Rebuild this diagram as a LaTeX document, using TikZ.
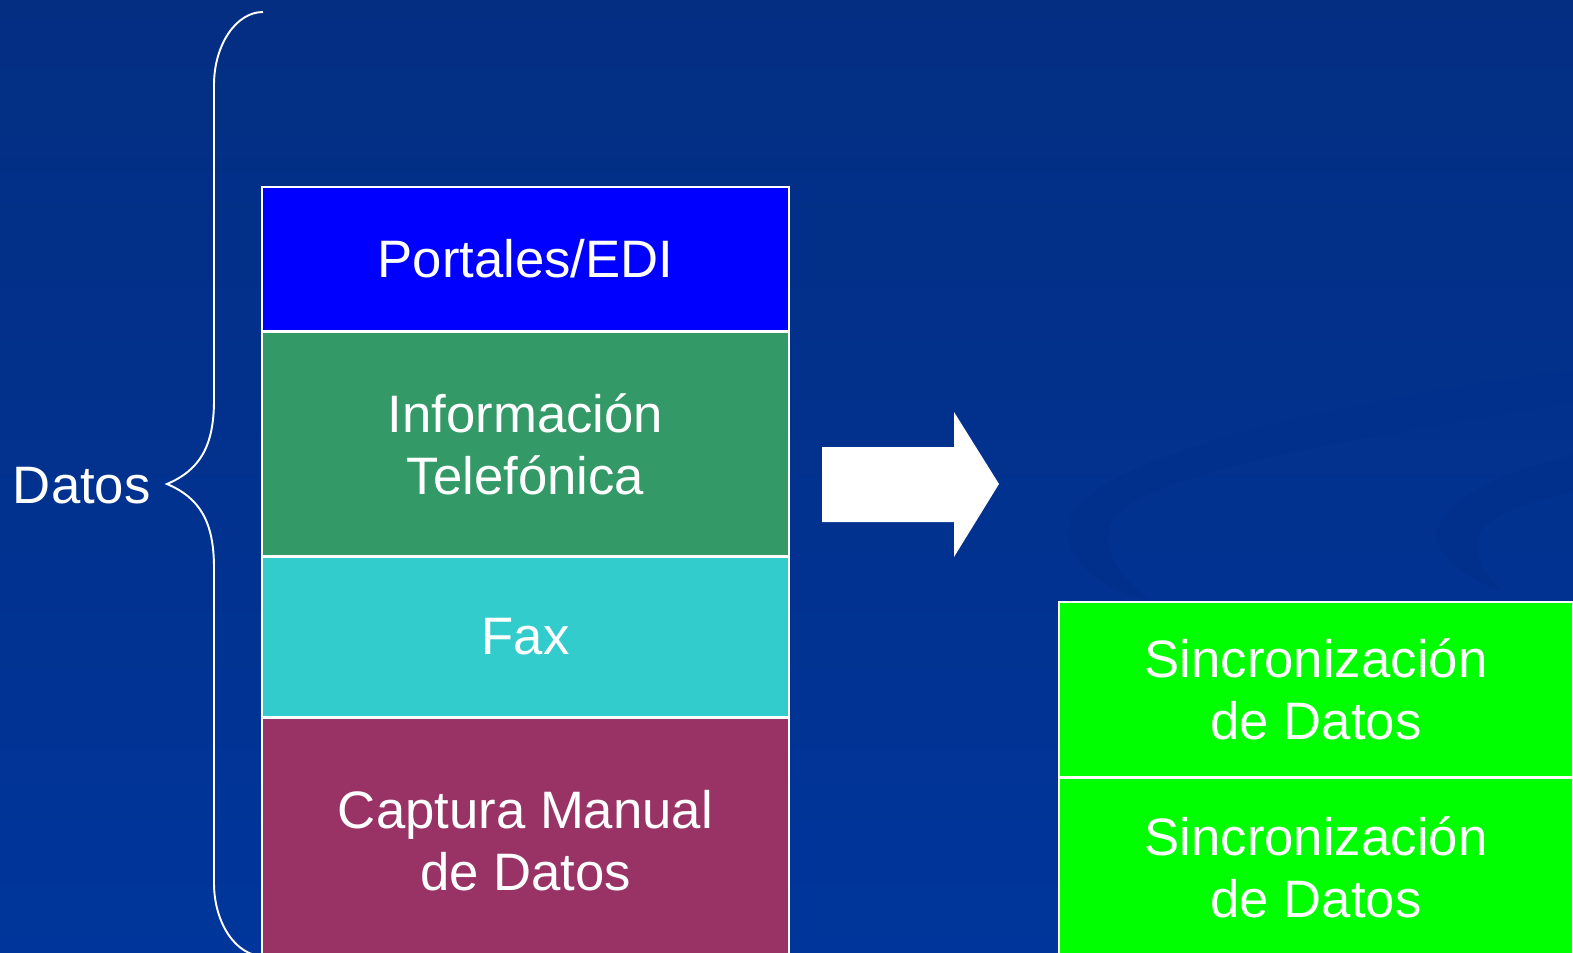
\documentclass[tikz,border=0pt]{standalone}
\usepackage{fontspec}
\setmainfont{Liberation Sans}
\usetikzlibrary{positioning}
\definecolor{portal}{RGB}{0,0,255}
\definecolor{tel}{RGB}{51,153,102}
\definecolor{fax}{RGB}{51,204,204}
\definecolor{manual}{RGB}{153,51,102}
\definecolor{sinc}{RGB}{0,255,0}
\definecolor{bgtop}{RGB}{3,46,130}
\definecolor{bgbot}{RGB}{0,53,155}
\definecolor{swirl}{RGB}{0,47,140}

\begin{document}
\begin{tikzpicture}[x=0.02cm, y=-0.02cm,
  big/.style = {font=\fontsize{30}{35.5}\selectfont},
  box/.style = {big, draw=white, line width=0.9pt, text=white, align=center, inner sep=0pt, minimum width=10.54cm},
  sbox/.style = {box, fill=sinc, minimum width=10.28cm}]
\useasboundingbox (0,0) rectangle (1573,953);
\clip (0,0) rectangle (1573,953);
\shade[top color=bgtop, bottom color=bgbot] (0,0) rectangle (1573,953);
\fill[swirl] (1573,370) .. controls (1350,400) and (1110,450) .. (1072,515) .. controls (1055,555) and (1100,590) .. (1150,600)
  .. controls (1115,575) and (1100,545) .. (1112,520) .. controls (1150,470) and (1350,440) .. (1573,402) -- cycle;
\fill[swirl] (1573,455) .. controls (1510,470) and (1445,495) .. (1436,535) .. controls (1440,560) and (1470,580) .. (1500,590)
  .. controls (1480,570) and (1470,545) .. (1483,527) .. controls (1500,510) and (1540,500) .. (1573,492) -- cycle;

\node[box, fill=portal, minimum height=2.88cm] (portal) at (525.5,259) {Portales/EDI};
\node[box, fill=tel, minimum height=4.46cm, below=0pt of portal] (tel) {Información\\Telefónica};
\node[box, fill=fax, minimum height=3.2cm, below=0pt of tel] (fax) {Fax};
\node[box, fill=manual, minimum height=4.88cm, below=0pt of fax] (manual) {Captura Manual\\de Datos};

\node[sbox, minimum height=3.5cm] (sinc1) at (1316,689.5) {Sincronización\\de Datos};
\node[sbox, minimum height=3.56cm, below=0pt of sinc1] (sinc2) {Sincronización\\de Datos};

\node[big, text=white, anchor=east, inner sep=0pt] (datos) at (151,486) {Datos};
\draw[white, line width=1.1pt] (263,12) .. controls (236,12) and (214,45) .. (214,85) -- (214,400)
  .. controls (214,446) and (200,470) .. (167,484) .. controls (200,498) and (214,522) .. (214,568)
  -- (214,883) .. controls (214,923) and (236,956) .. (263,956);

\fill[white] (822,447) -- (954,447) -- (954,412) -- (999,484) -- (954,557) -- (954,522) -- (822,522) -- cycle;
\end{tikzpicture}
\end{document}
